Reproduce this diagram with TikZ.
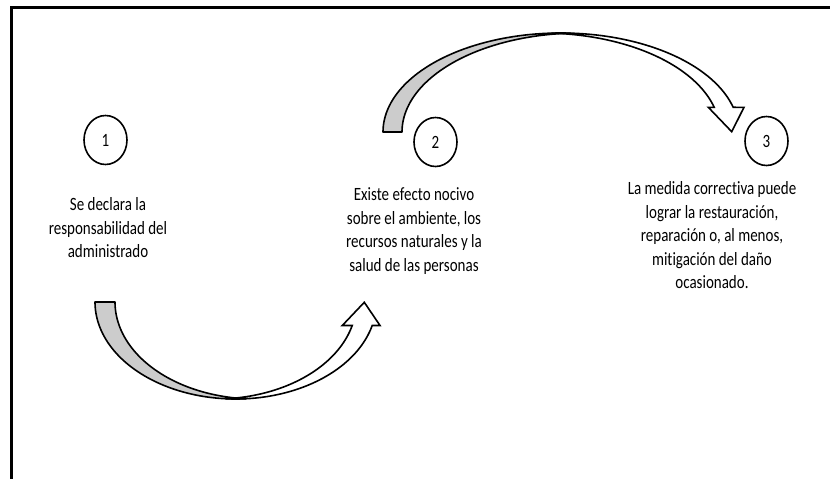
\documentclass[tikz,border=0pt]{standalone}
\usepackage{graphicx}
\usepackage{fontspec}
\setmainfont{Carlito}[Ligatures=NoCommon]
\usetikzlibrary{shapes.geometric}
\definecolor{backgray}{RGB}{204,204,204}
\newcommand\stretchtext[1]{\scalebox{1}[1.25]{\begin{tabular}{@{}c@{}}#1\end{tabular}}}
\begin{document}
\begin{tikzpicture}[x=1pt,y=-1pt,
  frame/.style={line width=3pt, line cap=butt, line join=miter},
  numcircle/.style={draw, line width=1.6pt, ellipse, minimum width=43pt, minimum height=49pt, inner sep=0pt, font=\fontsize{15}{18.8}\selectfont},
  desc/.style={anchor=north, inner sep=0pt, font=\fontsize{15}{18.8}\selectfont},
  arrowback/.style={draw, line width=1.6pt, fill=backgray, line join=round},
  arrowfront/.style={draw, line width=1.6pt, fill=white, line join=miter}]
\useasboundingbox (0,0) rectangle (830,479);
% frame
\draw[frame] (11,479) -- (11,7) -- (830,7);
% numbered circles
\node[numcircle] (c1) at (105.5,140) {\scalebox{1}[1.25]{1}};
\node[numcircle] (c2) at (435.5,142) {\scalebox{1}[1.25]{2}};
\node[numcircle] (c3) at (766.5,141) {\scalebox{1}[1.25]{3}};
% descriptions
\node[desc] (t1) at (108,194.3) {\stretchtext{Se declara la\\responsabilidad del\\administrado}};
\node[desc] (t2) at (414,184.3) {\stretchtext{Existe efecto nocivo\\sobre el ambiente, los\\recursos naturales y la\\salud de las personas}};
\node[desc] (t3) at (712,177.9) {\stretchtext{La medida correctiva puede\\lograr la restauración,\\reparación o, al menos,\\mitigación del daño\\ocasionado.}};
% lower curved arrow (1 -> 2)
\path[arrowback] plot[domain=180:85.92, samples=60, variable=\t] ({235.7+140.7*cos(\t)},{302+97*sin(\t)})
  -- plot[domain=94.08:180, samples=60, variable=\t] ({255.7+140.7*cos(\t)},{302+97*sin(\t)}) -- cycle;
\path[arrowfront] plot[domain=94.08:14.02, samples=60, variable=\t] ({235.7+140.7*cos(\t)},{302+97*sin(\t)})
  -- (380,325.5) coordinate (b1r) -- (364.3,302.3) coordinate (tip1) -- (342.3,325.5) coordinate (b1l)
  -- plot[domain=14.02:85.92, samples=60, variable=\t] ({215.7+140.7*cos(\t)},{302+97*sin(\t)}) -- cycle;
% upper curved arrow (2 -> 3)
\path[arrowback] plot[domain=180:273.06, samples=60, variable=\t] ({560.9+177.9*cos(\t)},{132+99*sin(\t)})
  -- plot[domain=266.94:180, samples=60, variable=\t] ({579.9+177.9*cos(\t)},{132+99*sin(\t)}) -- cycle;
\path[arrowfront] plot[domain=266.94:345.55, samples=60, variable=\t] ({560.9+177.9*cos(\t)},{132+99*sin(\t)})
  -- (744,107.3) coordinate (b2r) -- (731.7,131.7) coordinate (tip2) -- (708.3,107.3) coordinate (b2l)
  -- plot[domain=345.55:273.06, samples=60, variable=\t] ({541.9+177.9*cos(\t)},{132+99*sin(\t)}) -- cycle;
\end{tikzpicture}
\end{document}
